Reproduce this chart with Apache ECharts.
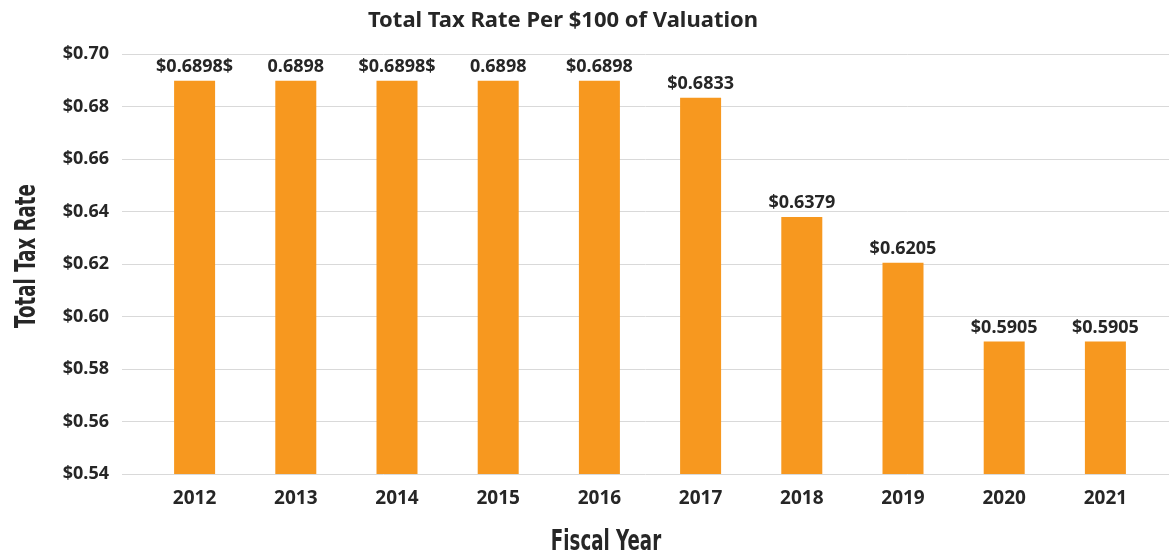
<!DOCTYPE html>
<html>
<head>
<meta charset="utf-8">
<style>
  html, body { margin: 0; padding: 0; background: #fff; }
  #chart { width: 1175px; height: 556px; }
</style>
</head>
<body>
<div id="chart"></div>
<script src="https://cdn.jsdelivr.net/npm/echarts@6/dist/echarts.min.js"></script>
<script>
const years = ['2012', '2013', '2014', '2015', '2016', '2017', '2018', '2019', '2020', '2021']
const taxRates = [0.6898, 0.6898, 0.6898, 0.6898, 0.6898, 0.6833, 0.6379, 0.6205, 0.5905, 0.5905]
// labels as printed on the original chart (including its stray $ signs)
const barLabels = ['$0.6898$', '0.6898', '$0.6898$', '0.6898', '$0.6898', '$0.6833', '$0.6379', '$0.6205', '$0.5905', '$0.5905']
const yTicks = { min: 0.54, max: 0.70, step: 0.02 }

const textColor = '#262626'
const font = 'Noto Sans'

const chart = echarts.init(document.getElementById('chart'))

// axis titles use a squeezed bold font (the original is a condensed face)
const axisTitle = (text, x, y, rotation) => ({
  type: 'text',
  x: x,
  y: y,
  rotation: rotation,
  scaleX: 0.65,
  style: {
    text: text,
    fontFamily: 'DejaVu Sans',
    fontWeight: 'bold',
    fontSize: 28,
    fill: textColor,
    align: 'center',
    verticalAlign: 'middle'
  }
})

const option = {
  animation: false,
  title: {
    text: 'Total Tax Rate Per $100 of Valuation',
    left: 558,
    textAlign: 'center',
    top: 5,
    textStyle: { fontFamily: font, fontWeight: 'bold', fontSize: 22, color: textColor }
  },
  graphic: [
    axisTitle('Total Tax Rate', 28, 256, Math.PI / 2),
    axisTitle('Fiscal Year', 606, 543, 0)
  ],
  grid: [
    // bars
    { left: 144, right: 19, top: 54, bottom: 82, outerBoundsMode: 'none', containLabel: false },
    // wider grid only for the horizontal gridlines
    { left: 122, right: 6, top: 54, bottom: 82, outerBoundsMode: 'none', containLabel: false }
  ],
  xAxis: [{
    type: 'category',
    gridIndex: 0,
    data: years,
    axisLine: { show: false },
    axisTick: { show: false },
    axisLabel: { fontFamily: font, fontWeight: 'bold', fontSize: 19, color: textColor, margin: 15 }
  }, {
    type: 'value',
    gridIndex: 1,
    show: false
  }],
  yAxis: [{
    type: 'value',
    gridIndex: 0,
    min: yTicks.min,
    max: yTicks.max,
    interval: yTicks.step,
    splitLine: { show: false },
    axisLabel: { show: false },
    axisLine: { show: false },
    axisTick: { show: false }
  }, {
    type: 'value',
    gridIndex: 1,
    min: yTicks.min,
    max: yTicks.max,
    interval: yTicks.step,
    splitLine: { show: true, lineStyle: { color: '#d9d9d9', width: 1 } },
    axisLine: { show: false },
    axisTick: { show: false },
    axisLabel: {
      fontFamily: font, fontWeight: 'bold', fontSize: 18, color: textColor, margin: 13,
      formatter: v => '$' + v.toFixed(2)
    }
  }],
  series: [{
    type: 'bar',
    xAxisIndex: 0,
    yAxisIndex: 0,
    data: taxRates,
    barWidth: 41,
    itemStyle: { color: '#F7981F' },
    label: {
      show: true,
      position: 'top',
      distance: 5,
      fontFamily: font,
      fontWeight: 'bold',
      fontSize: 18,
      color: textColor,
      formatter: p => barLabels[p.dataIndex]
    }
  }]
}

chart.setOption(option)
</script>
</body>
</html>
